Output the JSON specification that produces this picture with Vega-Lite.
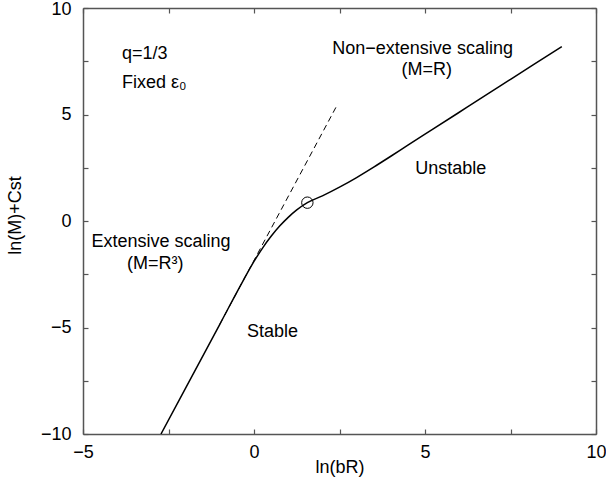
{
  "$schema": "https://vega.github.io/schema/vega-lite/v6.json",
  "autosize": "none",
  "width": 513,
  "height": 426,
  "padding": {"left": 83, "top": 8, "right": 10, "bottom": 59},
  "background": "white",
  "config": {
    "view": {"stroke": null},
    "font": "Liberation Sans",
    "axis": {
      "grid": false,
      "domainColor": "#555",
      "domainWidth": 1.5,
      "tickColor": "#555",
      "tickWidth": 1.2,
      "tickSize": -5,
      "labelFont": "Liberation Sans",
      "labelFontSize": 18,
      "labelColor": "black",
      "titleFont": "Liberation Sans",
      "titleFontSize": 18,
      "titleFontWeight": "normal",
      "titleColor": "black"
    }
  },
  "datasets": {
    "curve": [
      {"x": -2.72, "y": -10.0},
      {"x": -2.0, "y": -7.85},
      {"x": -1.0, "y": -4.85},
      {"x": -0.3, "y": -2.75},
      {"x": 0.0, "y": -1.9},
      {"x": 0.25, "y": -1.27},
      {"x": 0.5, "y": -0.72},
      {"x": 0.75, "y": -0.24},
      {"x": 1.0, "y": 0.17},
      {"x": 1.25, "y": 0.52},
      {"x": 1.56, "y": 0.86},
      {"x": 2.0, "y": 1.18},
      {"x": 2.5, "y": 1.59},
      {"x": 3.0, "y": 2.04},
      {"x": 3.5, "y": 2.53},
      {"x": 4.0, "y": 3.04},
      {"x": 4.5, "y": 3.56},
      {"x": 5.23, "y": 4.31},
      {"x": 6.22, "y": 5.33},
      {"x": 7.19, "y": 6.33},
      {"x": 8.16, "y": 7.33},
      {"x": 9.0, "y": 8.19}
    ],
    "dashed": [
      {"x": -1.0, "y": -4.85},
      {"x": 2.45, "y": 5.5}
    ],
    "marker": [
      {"x": 1.56, "y": 0.86}
    ],
    "labels": [
      {"x": -3.86, "y": 7.86, "text": "q=1/3", "align": "left"},
      {"x": -3.86, "y": 6.47, "text": "Fixed ε₀", "align": "left"},
      {"x": 4.93, "y": 8.08, "text": "Non−extensive scaling", "align": "center"},
      {"x": 5.05, "y": 7.07, "text": "(M=R)", "align": "center"},
      {"x": 5.75, "y": 2.46, "text": "Unstable", "align": "center"},
      {"x": -2.72, "y": -1.0, "text": "Extensive scaling", "align": "center"},
      {"x": -2.89, "y": -2.0, "text": "(M=R³)", "align": "center"},
      {"x": 0.54, "y": -5.2, "text": "Stable", "align": "center"}
    ]
  },
  "layer": [
    {
      "data": {"name": "curve"},
      "mark": {"type": "line", "color": "black", "strokeWidth": 1.5, "interpolate": "monotone", "clip": true},
      "encoding": {
        "x": {"field": "x", "type": "quantitative",
              "scale": {"domain": [-5, 10], "nice": false, "zero": false},
              "axis": {"orient": "bottom", "title": "ln(bR)", "values": [-5, -2.5, 0, 2.5, 5, 7.5, 10],
                       "labelExpr": "datum.value % 5 === 0 ? datum.label : ''",
                       "labelPadding": 14, "labelFlush": false, "labelOverlap": false,
                       "titleBaseline": "middle", "titleY": 33}},
        "y": {"field": "y", "type": "quantitative",
              "scale": {"domain": [-10, 10], "nice": false, "zero": false},
              "axis": {"orient": "left", "title": "ln(M)+Cst", "values": [-10, -7.5, -5, -2.5, 0, 2.5, 5, 7.5, 10],
                       "labelExpr": "datum.value % 5 === 0 ? datum.label : ''",
                       "labelOffset": {"condition": {"test": "datum.value === 10", "value": 1.5}, "value": 0},
                       "labelPadding": 17, "labelFlush": false, "labelOverlap": false,
                       "titleBaseline": "middle", "titleX": -68, "titleY": 207, "titleAngle": -90}}
      }
    },
    {
      "data": {"name": "dashed"},
      "mark": {"type": "line", "color": "black", "strokeWidth": 1, "strokeDash": [6, 4]},
      "encoding": {
        "x": {"field": "x", "type": "quantitative",
              "axis": {"orient": "top", "title": null, "labels": false, "values": [-5, -2.5, 0, 2.5, 5, 7.5, 10]}},
        "y": {"field": "y", "type": "quantitative",
              "axis": {"orient": "right", "title": null, "labels": false, "values": [-10, -7.5, -5, -2.5, 0, 2.5, 5, 7.5, 10]}}
      }
    },
    {
      "data": {"name": "marker"},
      "mark": {"type": "point", "shape": "circle", "filled": false, "color": "black", "strokeWidth": 1, "size": 130, "opacity": 1},
      "encoding": {
        "x": {"field": "x", "type": "quantitative", "axis": null},
        "y": {"field": "y", "type": "quantitative", "axis": null}
      }
    },
    {
      "data": {"name": "labels"},
      "transform": [{"filter": "datum.align === 'left'"}],
      "mark": {"type": "text", "fontSize": 18, "font": "Liberation Sans", "color": "black", "baseline": "middle", "align": "left"},
      "encoding": {
        "x": {"field": "x", "type": "quantitative", "axis": null},
        "y": {"field": "y", "type": "quantitative", "axis": null},
        "text": {"field": "text"}
      }
    },
    {
      "data": {"name": "labels"},
      "transform": [{"filter": "datum.align === 'center'"}],
      "mark": {"type": "text", "fontSize": 18, "font": "Liberation Sans", "color": "black", "baseline": "middle", "align": "center"},
      "encoding": {
        "x": {"field": "x", "type": "quantitative", "axis": null},
        "y": {"field": "y", "type": "quantitative", "axis": null},
        "text": {"field": "text"}
      }
    }
  ]
}
